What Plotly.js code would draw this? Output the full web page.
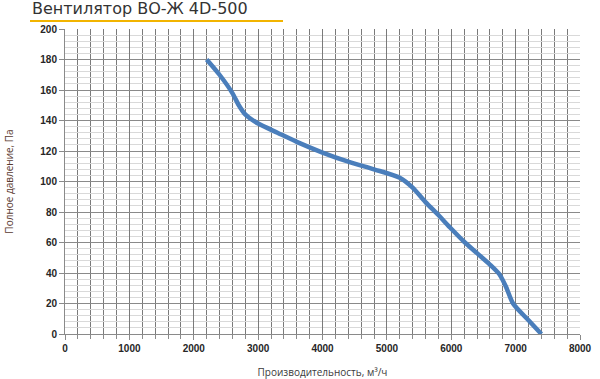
<!DOCTYPE html>
<html>
<head>
<meta charset="utf-8">
<script src="https://cdn.plot.ly/plotly-3.0.1.min.js"></script>
<style>html,body{margin:0;padding:0;background:#fff;}#chart{width:600px;height:379px;}</style>
</head>
<body>
<div id="chart"></div>
<script>
const flowRate = [2200, 2400, 2600, 2700, 2800, 3000, 3300, 3600, 4000, 4400, 4800, 5200, 5400, 5600, 5800, 6000, 6200, 6400, 6600, 6750, 6850, 6960, 7200, 7400];
const pressure = [180, 170, 158, 150, 144, 138, 132, 126, 119, 113, 108, 102.5, 96, 86.5, 78, 69, 60.5, 53, 45.5, 39, 31, 20, 9, 0];
const chartTitle = 'Вентилятор ВО-Ж 4D-500';
const xTitle = 'Производительность, м³/ч';
const yTitle = 'Полное давление, Па';

const trace = {
  x: flowRate, y: pressure, type: 'scatter', mode: 'lines',
  line: {color: '#4a7ebb', width: 4.5, shape: 'spline', smoothing: 0.7},
  hoverinfo: 'skip'
};

const tickFont = {family: 'Liberation Sans, Arial, sans-serif', size: 10, color: '#262626', weight: 'bold'};

const layout = {
  width: 600, height: 379,
  margin: {l: 65, r: 20, t: 29, b: 45},
  paper_bgcolor: '#fff', plot_bgcolor: '#fff',
  showlegend: false,
  title: {text: chartTitle, x: 32/600, xref: 'container', xanchor: 'left', y: 1 - 3/379, yref: 'container', yanchor: 'top',
          font: {family: 'DejaVu Sans, Verdana, sans-serif', size: 16, color: '#333'}},
  xaxis: {
    range: [0, 8000], dtick: 1000, tick0: 0,
    showgrid: true, gridcolor: '#7a7a7a', gridwidth: 1,
    minor: {dtick: 200, showgrid: true, gridcolor: '#7a7a7a', gridwidth: 1, ticks: 'outside', ticklen: 4, tickcolor: '#8a8a8a'},
    ticks: 'outside', ticklen: 5, tickcolor: '#8a8a8a',
    showline: true, linecolor: '#8a8a8a', zeroline: false,
    tickfont: tickFont,
    title: {text: xTitle, standoff: 17, font: {family: 'Open Sans, Liberation Sans, sans-serif', size: 10, color: '#3a3a3a'}}
  },
  yaxis: {
    range: [0, 200], dtick: 20, tick0: 0,
    showgrid: true, gridcolor: '#8a8a8a', gridwidth: 1,
    minor: {dtick: 4, showgrid: true, gridcolor: '#d9d9d9', gridwidth: 1},
    ticks: 'outside', ticklen: 5, tickcolor: '#8a8a8a',
    showline: true, linecolor: '#8a8a8a', zeroline: false,
    tickfont: tickFont,
    title: {text: yTitle, standoff: 24, font: {family: 'Open Sans, Liberation Sans, sans-serif', size: 10, color: '#5a3a30'}}
  },
  shapes: [{type: 'line', xref: 'paper', yref: 'paper', x0: -35/515, x1: 218/515, y0: 313/305, y1: 313/305,
            line: {color: '#f2b400', width: 2}}]
};

Plotly.newPlot('chart', [trace], layout, {displayModeBar: false, staticPlot: true});
</script>
</body>
</html>
